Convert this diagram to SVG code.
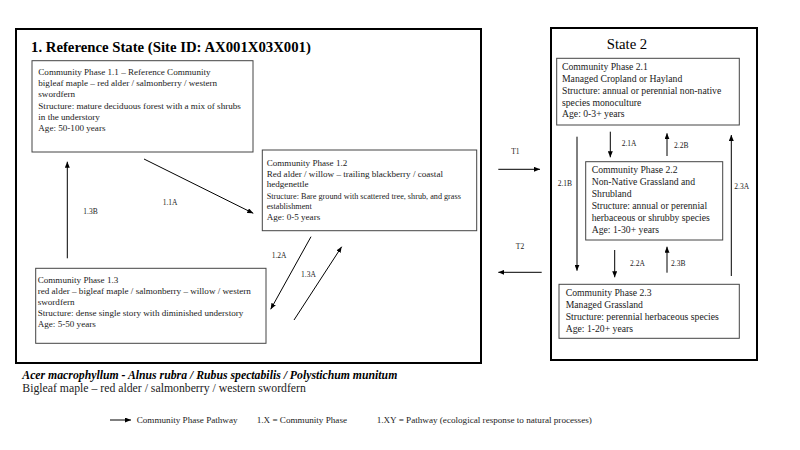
<svg xmlns="http://www.w3.org/2000/svg" width="800" height="450" viewBox="0 0 800 450">
<defs>
<marker id="ah" markerUnits="userSpaceOnUse" markerWidth="6" markerHeight="5" refX="6" refY="2.5" orient="auto">
<path d="M0,0 L6,2.5 L0,5 z" fill="#000"/>
</marker>
<style>
text{font-family:"Liberation Serif","Times New Roman",serif;fill:#1a1a1a}
.state{fill:none;stroke:#000;stroke-width:2}
.box{fill:#fff;stroke:#444;stroke-width:1}
.t1{font-size:9.1px}
.t2{font-size:9.7px}
.sm{font-size:8.2px}
.lbl{font-size:7.5px}
.title{font-size:14.75px;font-weight:bold;fill:#000}
.st{font-size:14.75px;fill:#000}
.leg{font-size:9.15px}
.conn line{stroke:#000;stroke-width:1;marker-end:url(#ah)}
</style>
</defs>
<rect width="800" height="450" fill="#fff"/>

<g id="state1">
<rect class="state" x="16" y="29" width="465" height="334"/>
<text class="title" x="31" y="52">1. Reference State (Site ID: AX001X03X001)</text>
</g>
<g id="state2">
<rect class="state" x="551" y="28" width="206" height="332"/>
<text class="st" x="606.7" y="49.3">State 2</text>
</g>

<g id="cp11">
<rect class="box" x="32" y="60.7" width="221" height="91.3"/>
<text class="t1" x="38.3" y="75">Community Phase 1.1 – Reference Community</text>
<text class="t1" x="38.3" y="86.2">bigleaf maple – red alder / salmonberry  / western</text>
<text class="t1" x="38.3" y="97.3">swordfern</text>
<text class="t1" x="38.3" y="108.5">Structure: mature deciduous forest with a mix of shrubs</text>
<text class="t1" x="38.3" y="119.6">in the understory</text>
<text class="t1" x="38.3" y="130.8">Age: 50-100 years</text>
</g>

<g id="cp12">
<rect class="box" x="262.3" y="150" width="214.4" height="80.7"/>
<text class="t1" x="266.7" y="166">Community Phase 1.2</text>
<text class="t1" x="266.7" y="176.7">Red alder / willow – trailing blackberry / coastal</text>
<text class="t1" x="266.7" y="187">hedgenettle</text>
<text class="sm" x="266.7" y="199.3">Structure: Bare ground with scattered tree, shrub, and grass</text>
<text class="sm" x="266.7" y="208.5">establishment</text>
<text class="t1" x="266.7" y="220">Age: 0-5 years</text>
</g>

<g id="cp13">
<rect class="box" x="35.7" y="268.3" width="230.3" height="75"/>
<text class="t1" x="37.7" y="283.3">Community Phase 1.3</text>
<text class="t1" x="37.7" y="294.3">red alder – bigleaf maple / salmonberry – willow / western</text>
<text class="t1" x="37.7" y="304.8">swordfern</text>
<text class="t1" x="37.7" y="315.7">Structure: dense single story with diminished understory</text>
<text class="t1" x="37.7" y="326.7">Age: 5-50 years</text>
</g>

<g id="cp21">
<rect class="box" x="556.7" y="58.3" width="182.6" height="66.7"/>
<text class="t2" x="562" y="70">Community Phase 2.1</text>
<text class="t2" x="562" y="82">Managed Cropland or Hayland</text>
<text class="t2" x="562" y="93.8">Structure: annual or perennial non-native</text>
<text class="t2" x="562" y="105.5">species monoculture</text>
<text class="t2" x="562" y="117.3">Age: 0-3+ years</text>
</g>

<g id="cp22">
<rect class="box" x="585.7" y="161.7" width="137" height="78.3"/>
<text class="t2" x="591.7" y="173.3">Community Phase 2.2</text>
<text class="t2" x="591.7" y="185">Non-Native Grassland and</text>
<text class="t2" x="591.7" y="196.8">Shrubland</text>
<text class="t2" x="591.7" y="208.7">Structure: annual or perennial</text>
<text class="t2" x="591.7" y="220.8">herbaceous or shrubby species</text>
<text class="t2" x="591.7" y="232.7">Age: 1-30+ years</text>
</g>

<g id="cp23">
<rect class="box" x="559" y="284.3" width="180.3" height="54"/>
<text class="t2" x="565.7" y="295.7">Community Phase 2.3</text>
<text class="t2" x="565.7" y="307.5">Managed Grassland</text>
<text class="t2" x="565.7" y="319.5">Structure: perennial herbaceous species</text>
<text class="t2" x="565.7" y="331.7">Age: 1-20+ years</text>
</g>

<g id="connectors" class="conn">
<line x1="144" y1="159" x2="253.3" y2="213.3"/>
<line x1="67.3" y1="258.3" x2="67.3" y2="161.7"/>
<line x1="311" y1="236.7" x2="270.7" y2="309.3"/>
<line x1="294" y1="320" x2="341.7" y2="246.7"/>
<line x1="498.3" y1="169.3" x2="540" y2="169.3"/>
<line x1="541.7" y1="272.3" x2="498.3" y2="272.3"/>
<line x1="610.3" y1="131.7" x2="610.3" y2="157.3"/>
<line x1="667" y1="156" x2="667" y2="133.3"/>
<line x1="731.3" y1="276" x2="731.3" y2="135"/>
<line x1="577" y1="136.7" x2="577" y2="270.7"/>
<line x1="614.7" y1="250" x2="614.7" y2="277.3"/>
<line x1="667" y1="272.7" x2="667" y2="246.7"/>
</g>

<g id="connector-labels">
<text class="lbl" x="162.7" y="205.3">1.1A</text>
<text class="lbl" x="83.3" y="214">1.3B</text>
<text class="lbl" x="271.7" y="258.3">1.2A</text>
<text class="lbl" x="301" y="277.3">1.3A</text>
<text class="lbl" x="515.3" y="154.3" text-anchor="middle">T1</text>
<text class="lbl" x="520" y="249" text-anchor="middle">T2</text>
<text class="lbl" x="621.7" y="146">2.1A</text>
<text class="lbl" x="674" y="148.3">2.2B</text>
<text class="lbl" x="734.3" y="189.3">2.3A</text>
<text class="lbl" x="557.7" y="186">2.1B</text>
<text class="lbl" x="630" y="266">2.2A</text>
<text class="lbl" x="671" y="266">2.3B</text>
</g>

<g id="species">
<text x="22.3" y="378.5" style="font-size:11.75px;font-weight:bold;font-style:italic;fill:#000">Acer macrophyllum - Alnus rubra / Rubus spectabilis / Polystichum munitum</text>
<text x="22.3" y="391.7" style="font-size:11.75px">Bigleaf maple – red alder / salmonberry / western swordfern</text>
</g>

<g id="legend">
<line x1="110" y1="420" x2="131" y2="420" stroke="#000" stroke-width="1" marker-end="url(#ah)"/>
<text class="leg" x="136.7" y="422.7">Community Phase Pathway</text>
<text class="leg" x="256.7" y="422.7">1.X = Community Phase</text>
<text class="leg" x="376.7" y="422.7">1.XY = Pathway (ecological response to natural processes)</text>
</g>
</svg>
